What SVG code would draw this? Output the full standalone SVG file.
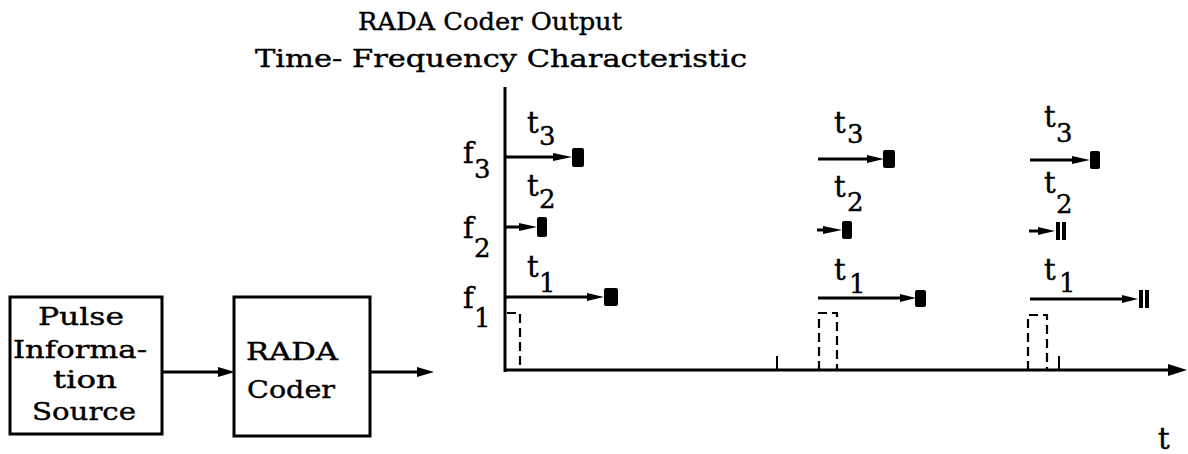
<svg xmlns="http://www.w3.org/2000/svg" width="1188" height="454" viewBox="0 0 1188 454">
<style>
text{font-family:"DejaVu Serif","Liberation Serif",serif;fill:#000;stroke:#000;stroke-width:0.4}
.t{font-size:25px}
.l{font-size:29px}
.s{font-size:26px}
.box{fill:#fff;stroke:#000;stroke-width:3}
.ln{stroke:#000;stroke-width:3;fill:none}
.dash{stroke:#000;stroke-width:2.2;fill:none;stroke-dasharray:9 5}
.blk{fill:#000}
</style>
<rect width="1188" height="454" fill="#fff"/>
<g id="title">
<text class="t" x="358" y="30" textLength="264" lengthAdjust="spacingAndGlyphs">RADA Coder Output</text>
<text class="t" x="255" y="67" textLength="492" lengthAdjust="spacingAndGlyphs">Time- Frequency Characteristic</text>
</g>
<g id="pulse-source">
<rect class="box" x="10" y="297" width="152" height="137"/>
<text class="t" x="81" y="325" text-anchor="middle" textLength="86" lengthAdjust="spacingAndGlyphs">Pulse</text>
<text class="t" x="80" y="358" text-anchor="middle" textLength="134" lengthAdjust="spacingAndGlyphs">Informa-</text>
<text class="t" x="85" y="388" text-anchor="middle" textLength="64" lengthAdjust="spacingAndGlyphs">tion</text>
<text class="t" x="84" y="420" text-anchor="middle" textLength="104" lengthAdjust="spacingAndGlyphs">Source</text>
</g>
<g id="rada-coder">
<rect class="box" x="234" y="297" width="136" height="139"/>
<text class="t" x="292" y="360" text-anchor="middle" textLength="92" lengthAdjust="spacingAndGlyphs">RADA</text>
<text class="t" x="291" y="398" text-anchor="middle" textLength="88" lengthAdjust="spacingAndGlyphs">Coder</text>
</g>
<g id="connectors">
<path d="M162,372 H218" class="ln"/>
<path d="M218,367 L235,372 L218,377 Z" class="blk"/>
<path d="M370,372 H417" class="ln"/>
<path d="M417,367 L434,372 L417,377 Z" class="blk"/>
</g>
<g id="chart">
<path d="M505,87 V372" class="ln"/>
<path d="M504,370 H1170" class="ln"/>
<path d="M1168,364 L1187,370 L1168,376 Z" class="blk"/>
<path d="M777,356 V370 M1059,356 V370" class="ln" style="stroke-width:2"/>
<text class="l" x="1158" y="449">t</text>
<text class="l" x="463" y="163">f</text><text class="s" x="474" y="178">3</text>
<text class="l" x="463" y="238">f</text><text class="s" x="474" y="257">2</text>
<text class="l" x="463" y="308">f</text><text class="s" x="474" y="327">1</text>
</g>
<g id="group1">
<path d="M505,157 H556" class="ln"/><path d="M553,153 L572,157 L553,161 Z" class="blk"/><rect class="blk" x="572" y="148" width="12" height="19" rx="2"/>
<path d="M505,227 H522" class="ln"/><path d="M519,223 L537,227 L519,231 Z" class="blk"/><rect class="blk" x="537" y="217" width="10" height="20" rx="2"/>
<path d="M505,297 H590" class="ln"/><path d="M587,293 L604,297 L587,301 Z" class="blk"/><rect class="blk" x="604" y="288" width="14" height="18" rx="2"/>
<text class="l" x="527" y="133">t</text><text class="s" x="539" y="145">3</text>
<text class="l" x="527" y="196">t</text><text class="s" x="539" y="208">2</text>
<text class="l" x="527" y="277">t</text><text class="s" x="539" y="292">1</text>
<path d="M507,313 H520 V370" class="dash"/>
</g>
<g id="group2">
<path d="M818,159 H870" class="ln"/><path d="M867,155 L884,159 L867,163 Z" class="blk"/><rect class="blk" x="883" y="150" width="12" height="18" rx="2"/>
<path d="M817,230 H826" class="ln"/><path d="M823,226 L842,230 L823,234 Z" class="blk"/><rect class="blk" x="842" y="221" width="10" height="18" rx="2"/>
<path d="M818,298 H903" class="ln"/><path d="M900,294 L916,298 L900,302 Z" class="blk"/><rect class="blk" x="915" y="290" width="11" height="17" rx="2"/>
<text class="l" x="834" y="133">t</text><text class="s" x="847" y="143">3</text>
<text class="l" x="834" y="197">t</text><text class="s" x="847" y="211">2</text>
<text class="l" x="834" y="280">t</text><text class="s" x="849" y="293">1</text>
<path d="M819,370 V313 H837 V370" class="dash"/>
</g>
<g id="group3">
<path d="M1030,160 H1075" class="ln"/><path d="M1072,156 L1090,160 L1072,164 Z" class="blk"/><rect class="blk" x="1090" y="151" width="10" height="18" rx="2"/>
<path d="M1029,231 H1041" class="ln"/><path d="M1038,227 L1055,231 L1038,235 Z" class="blk"/><rect class="blk" x="1056" y="222" width="4" height="18"/><rect class="blk" x="1062" y="222" width="4" height="18"/>
<path d="M1030,299 H1125" class="ln"/><path d="M1122,295 L1138,299 L1122,303 Z" class="blk"/><rect class="blk" x="1139" y="290" width="4" height="18"/><rect class="blk" x="1145" y="290" width="4" height="18"/>
<text class="l" x="1044" y="127">t</text><text class="s" x="1056" y="142">3</text>
<text class="l" x="1044" y="193">t</text><text class="s" x="1056" y="213">2</text>
<text class="l" x="1044" y="280">t</text><text class="s" x="1059" y="292">1</text>
<path d="M1028,370 V315 H1047 V370" class="dash"/>
</g>
</svg>
